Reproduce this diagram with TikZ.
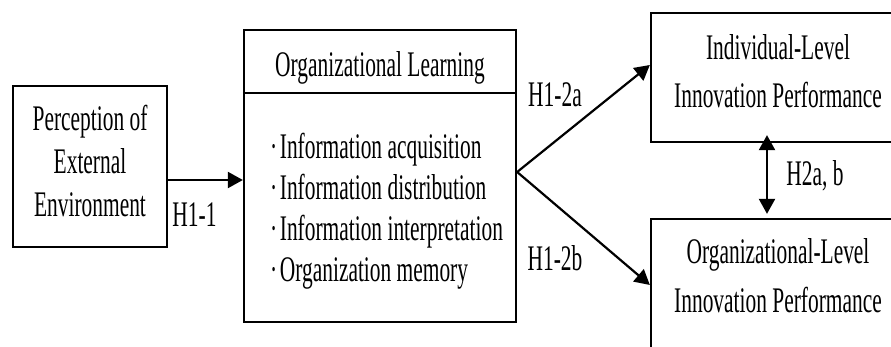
\documentclass[tikz,border=0pt]{standalone}
\usepackage{graphicx}
\usepackage{fontspec}
\setmainfont{Liberation Serif}
\usetikzlibrary{arrows.meta,calc}
\newcommand{\sq}[1]{\scalebox{0.595}[1]{#1}}
\begin{document}
\begin{tikzpicture}[x=1pt,y=1pt,
  box/.style={draw=black, line width=2.3pt, rectangle, inner sep=0pt},
  txt/.style={inner sep=0pt, font=\fontsize{36}{43}\selectfont},
  conn/.style={line width=2.2pt, -{Triangle[length=15pt,width=16pt]}},
  dconn/.style={line width=2.2pt, {Triangle[length=15pt,width=16pt]}-{Triangle[length=15pt,width=16pt]}}]
\useasboundingbox (0,0) rectangle (891,-347);
\fill[white] (0,0) rectangle (891,-347);
\clip (0,0) rectangle (891,-347);

% boxes
\node[box, minimum width=154, minimum height=161] (b1) at (90,-166.5) {};
\node[box, minimum width=272, minimum height=292] (b2) at (380,-176) {};
\node[box, minimum width=254, minimum height=129] (b3) at (778,-77.5) {};
\node[box, minimum width=254, minimum height=141] (b4) at (778,-289.5) {};

% divider in learning box
\coordinate (ydiv) at (0,-93);
\draw[line width=2.3pt] (b2.west |- ydiv) -- (b2.east |- ydiv);

% texts
\node[txt] (t1) at (90,-165) {\sq{\begin{tabular}{@{}c@{}}Perception of\\External\\Environment\end{tabular}}};
\node[txt, anchor=base] (t2) at (380,-77) {\sq{Organizational Learning}};
\node[txt, anchor=west, font=\fontsize{36}{41}\selectfont] (t2l) at (270,-212) {\sq{\begin{tabular}{@{}l@{}}·\hspace{0.12em}Information acquisition\\·\hspace{0.12em}Information distribution\\·\hspace{0.12em}Information interpretation\\·\hspace{0.12em}Organization memory\end{tabular}}};
\node[txt, font=\fontsize{36}{48}\selectfont] (t3) at (778,-74) {\sq{\begin{tabular}{@{}c@{}}Individual-Level\\Innovation Performance\end{tabular}}};
\node[txt, font=\fontsize{36}{48}\selectfont] (t4) at (778,-278.4) {\sq{\begin{tabular}{@{}c@{}}Organizational-Level\\Innovation Performance\end{tabular}}};

% connectors
\coordinate (y180) at (0,-180);
\coordinate (ybr) at (0,-172);
\coordinate (y65) at (0,-65);
\coordinate (y285) at (0,-285);
\coordinate (x767) at (767,0);
\draw[conn] (b1.east |- y180) -- (b2.west |- y180);
\draw[conn] (b2.east |- ybr) -- (b3.west |- y65);
\draw[conn] (b2.east |- ybr) -- (b4.west |- y285);
\draw[dconn] ($(b3.south -| x767)+(0,8)$) -- ($(b4.north -| x767)+(0,4)$);

% labels
\node[txt, anchor=base] (h11) at (194.5,-227) {\sq{H1-1}};
\node[txt, anchor=base] (h12a) at (555,-107) {\sq{H1-2a}};
\node[txt, anchor=base] (h12b) at (555,-270) {\sq{H1-2b}};
\node[txt, anchor=base] (h2) at (815,-186) {\sq{H2a, b}};
\end{tikzpicture}
\end{document}
